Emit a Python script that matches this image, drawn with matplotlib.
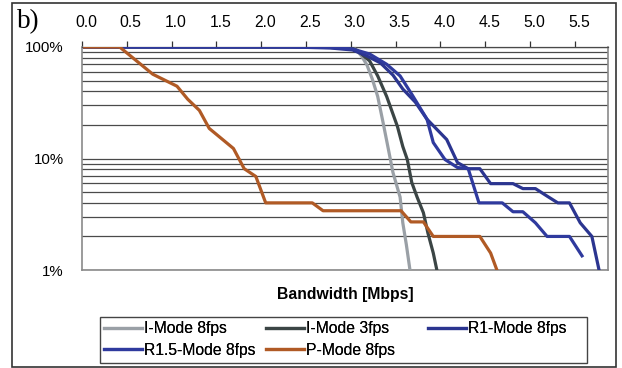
import matplotlib

matplotlib.use("Agg")
import matplotlib.pyplot as plt
from matplotlib.patches import Rectangle
from matplotlib.transforms import ScaledTranslation
from matplotlib.ticker import FixedLocator, NullFormatter

plt.rcParams["font.family"] = ["Liberation Sans", "DejaVu Sans"]

# I-Mode 8fps (light gray)
i8_x = [0.03, 2.94, 3.05, 3.12, 3.18, 3.24, 3.30, 3.36, 3.42, 3.47, 3.55, 3.58, 3.62, 3.66]
i8_y = [100, 100, 96, 83, 69, 51.5, 36, 21, 12, 7.5, 4.5, 2.65, 1.68, 1.0]

# I-Mode 3fps (dark gray)
i3_x = [0.03, 2.99, 3.08, 3.21, 3.30, 3.40, 3.52, 3.58, 3.63, 3.68, 3.74, 3.81, 3.86, 3.92, 3.96]
i3_y = [100, 100, 92, 75, 55, 36, 19.4, 12.8, 9.8, 6.1, 4.5, 3.26, 2.15, 1.42, 1.0]

# R1-Mode 8fps
r1_x = [0.03, 2.32, 2.77, 3.02, 3.18, 3.33, 3.47, 3.58, 3.72, 3.85, 4.07, 4.19, 4.31,
        4.44, 4.56, 4.81, 4.92, 5.06, 5.19, 5.31, 5.44, 5.56, 5.69, 5.77]
r1_y = [100, 100, 98, 94, 83, 72, 56, 42, 32, 22.5, 14.8, 9.2, 8.1,
        8.1, 5.95, 5.95, 5.37, 5.37, 4.6, 4.0, 4.0, 2.65, 2.0, 1.0]

# R1.5-Mode 8fps
r15_x = [0.03, 2.32, 2.77, 3.02, 3.21, 3.40, 3.55, 3.68, 3.85, 3.92, 4.05, 4.19, 4.31,
         4.43, 4.69, 4.81, 4.92, 5.06, 5.19, 5.44, 5.58]
r15_y = [100, 100, 99, 96, 86.5, 70, 55, 37.7, 22.5, 13.9, 9.8, 8.3, 8.1,
         4.0, 4.0, 3.33, 3.33, 2.65, 2.0, 2.0, 1.34]

# P-Mode 8fps (brown)
p_x = [0.03, 0.42, 0.79, 1.06, 1.18, 1.31, 1.42, 1.69, 1.81, 1.94, 2.05, 2.57, 2.69,
       3.56, 3.67, 3.81, 3.92, 4.44, 4.56, 4.63]
p_y = [100, 100, 57, 44.5, 34, 27, 18.6, 12.3, 8.1, 6.9, 4.0, 4.0, 3.4,
       3.4, 2.7, 2.7, 2.0, 2.0, 1.42, 1.0]

x_ticks = [0.0, 0.5, 1.0, 1.5, 2.0, 2.5, 3.0, 3.5, 4.0, 4.5, 5.0, 5.5]
x_labels = ["0.0", "0.5", "1.0", "1.5", "2.0", "2.5", "3.0", "3.5", "4.0", "4.5", "5.0", "5.5"]
y_ticks = [1, 10, 100]
y_labels = ["1%", "10%", "100%"]

FS = 11.3

fig = plt.figure(figsize=(6.22, 3.68), dpi=100)
ax = fig.add_axes([82 / 622, 1 - 270 / 368, 526 / 622, 223 / 368])

# gridlines (all decades and sub-decades)
grid_vals = [k * 10 ** d for d in (0, 1) for k in range(1, 10)] + [100]
for g in grid_vals:
    ax.axhline(g, color="#4a4a4a", lw=0.9, zorder=1)

lw = 2.3
l_i8, = ax.plot(i8_x, i8_y, color="#9aa0a6", lw=lw, label="I-Mode 8fps", zorder=3)
l_i3, = ax.plot(i3_x, i3_y, color="#3b4545", lw=lw, label="I-Mode 3fps", zorder=3)
l_r1, = ax.plot(r1_x, r1_y, color="#2b3590", lw=lw, label="R1-Mode 8fps", zorder=3)
l_r15, = ax.plot(r15_x, r15_y, color="#2f3a9e", lw=lw, label="R1.5-Mode 8fps", zorder=3)
l_p, = ax.plot(p_x, p_y, color="#b05a25", lw=lw, label="P-Mode 8fps", zorder=3)

ax.set_yscale("log")
ax.set_ylim(1, 100)
ax.set_xlim(0, 5.87)
ax.yaxis.set_major_locator(FixedLocator(y_ticks))
ax.set_yticklabels(y_labels, fontsize=FS - 0.5)
ax.yaxis.set_minor_formatter(NullFormatter())
ax.tick_params(axis="y", which="both", length=0, pad=13)

ax.xaxis.tick_top()
ax.set_xticks(x_ticks)
ax.set_xticklabels(x_labels, fontsize=FS)
ax.tick_params(axis="x", length=4, width=0.9, color="#333333", pad=8)
for lab in ax.get_xticklabels():
    lab.set_transform(lab.get_transform() + ScaledTranslation(4 / 100, 0, fig.dpi_scale_trans))

for side in ("left", "right", "bottom"):
    ax.spines[side].set_color("#8a8a8a")
    ax.spines[side].set_linewidth(1.2)
ax.spines["top"].set_color("#4a4a4a")
ax.spines["top"].set_linewidth(0.9)

fig.text(345 / 622, 1 - 294 / 368, "Bandwidth [Mbps]", ha="center", va="center",
         fontsize=FS, fontweight="bold")
fig.text(17 / 622, 1 - 28 / 368, "b)", ha="left", va="baseline", fontsize=19.5,
         family=["Liberation Serif", "DejaVu Serif"])

# legend: three equal-width columns inside one frame
columns = [[l_i8, l_r15], [l_i3, l_p], [l_r1]]
col_x = [104, 266, 428]
for hs, cx in zip(columns, col_x):
    leg = fig.legend(hs, [h.get_label() for h in hs], loc="upper left",
                     bbox_to_anchor=(cx / 622, 1 - 321 / 368),
                     fontsize=FS, frameon=False, handlelength=2.4, handletextpad=0.15,
                     labelspacing=0.42, borderpad=0, borderaxespad=0)
    fig.add_artist(leg)

fig.patches.append(Rectangle((100 / 622, 1 - 363 / 368), 487 / 622, 46 / 368,
                             transform=fig.transFigure, fill=False,
                             edgecolor="#444444", lw=1.0))

fig.patches.append(Rectangle((12 / 622, 1 - 367 / 368), 604 / 622, 364 / 368,
                             transform=fig.transFigure, fill=False,
                             edgecolor="#333333", lw=1.2))

fig.savefig("out.png", dpi=100)
